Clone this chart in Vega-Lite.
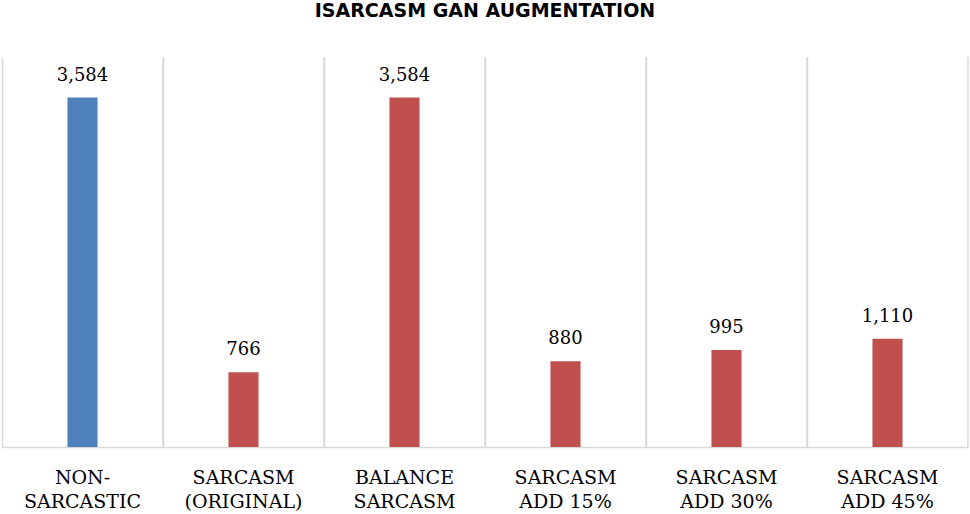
{
  "$schema": "https://vega.github.io/schema/vega-lite/v6.json",
  "autosize": {"type": "none"},
  "width": 966,
  "height": 390,
  "padding": {"left": 2, "top": 57, "right": 2, "bottom": 67},
  "background": "white",
  "title": {
    "text": "ISARCASM GAN AUGMENTATION",
    "font": "DejaVu Sans",
    "fontSize": 19,
    "fontWeight": "bold",
    "color": "#000000",
    "anchor": "middle",
    "offset": 35
  },
  "data": {
    "values": [
      {"category": "NON-SARCASTIC", "count": 3584, "group": "Non-sarcastic"},
      {"category": "SARCASM (ORIGINAL)", "count": 766, "group": "Sarcasm"},
      {"category": "BALANCE SARCASM", "count": 3584, "group": "Sarcasm"},
      {"category": "SARCASM ADD 15%", "count": 880, "group": "Sarcasm"},
      {"category": "SARCASM ADD 30%", "count": 995, "group": "Sarcasm"},
      {"category": "SARCASM ADD 45%", "count": 1110, "group": "Sarcasm"}
    ]
  },
  "config": {"view": {"stroke": null}},
  "encoding": {
    "x": {
      "field": "category",
      "type": "nominal",
      "sort": null,
      "scale": {"paddingInner": 0, "paddingOuter": 0},
      "axis": {
        "title": null,
        "labelAngle": 0,
        "labelFont": "DejaVu Serif",
        "labelFontSize": 19,
        "labelColor": "#000000",
        "labelPadding": 21,
        "labelLineHeight": 24,
        "labelBaseline": "top",
        "labelExpr": "indexof(datum.value,'-')>=0 ? ['NON-','SARCASTIC'] : [substring(datum.value,0,indexof(datum.value,' ')), substring(datum.value,indexof(datum.value,' ')+1)]",
        "ticks": false,
        "domainColor": "#d9d9d9",
        "domainWidth": 1.5,
        "grid": true,
        "gridColor": "#d9d9d9",
        "gridWidth": 1.5,
        "bandPosition": 0
      }
    }
  },
  "layer": [
    {
      "mark": {"type": "rule", "color": "#d9d9d9", "strokeWidth": 1.5},
      "encoding": {
        "x": {"field": "category", "type": "nominal", "sort": null, "bandPosition": 1}
      }
    },
    {
      "mark": {"type": "bar", "width": {"band": 0.187}},
      "encoding": {
        "y": {
          "field": "count",
          "type": "quantitative",
          "scale": {"domain": [0, 4000]},
          "axis": null
        },
        "color": {
          "field": "group",
          "type": "nominal",
          "scale": {"domain": ["Non-sarcastic", "Sarcasm"], "range": ["#4f81bd", "#c0504d"]},
          "legend": null
        }
      }
    },
    {
      "mark": {
        "type": "text",
        "font": "DejaVu Serif",
        "fontSize": 18,
        "color": "#000000",
        "baseline": "alphabetic",
        "dy": -17
      },
      "encoding": {
        "y": {"field": "count", "type": "quantitative"},
        "text": {"field": "count", "type": "quantitative", "format": ",d"}
      }
    }
  ]
}
